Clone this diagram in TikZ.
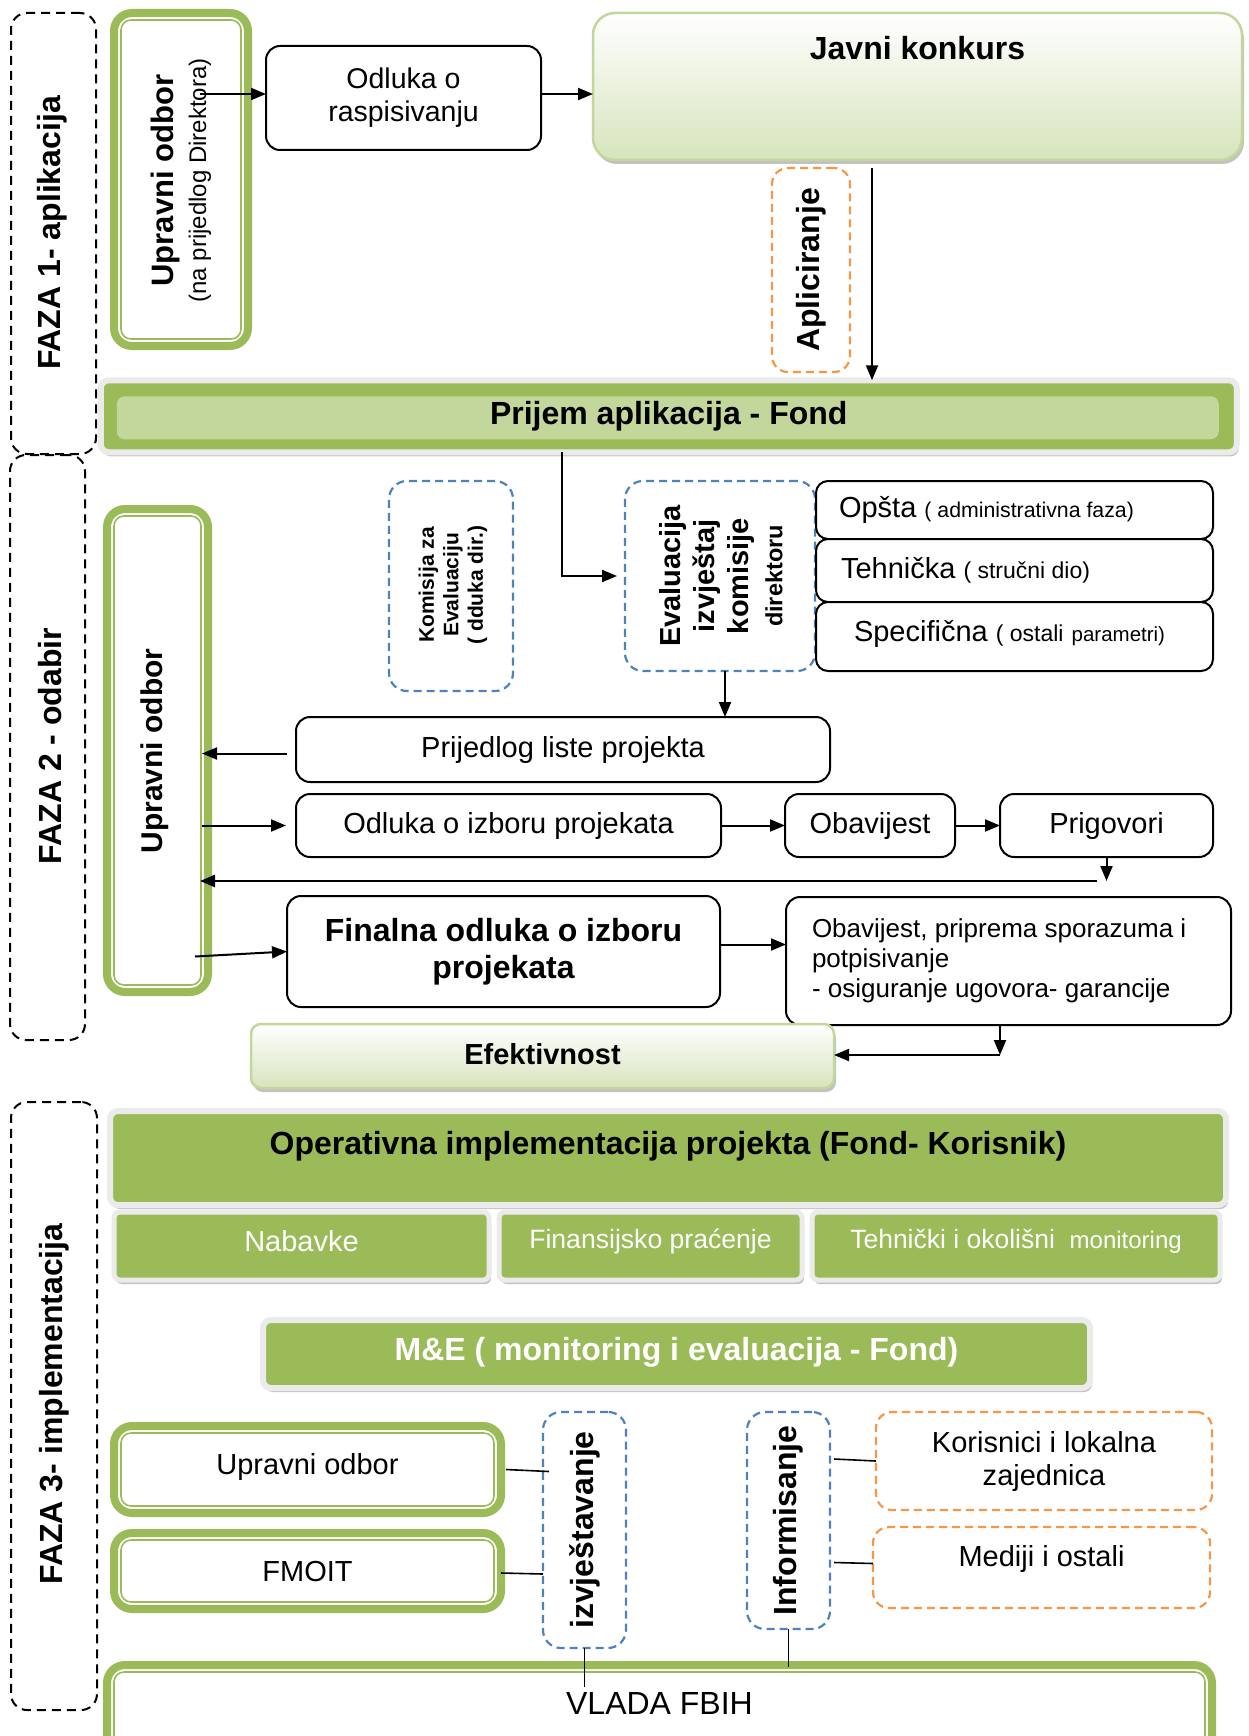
\documentclass[tikz,border=0pt]{standalone}
\usepackage{fontspec}
\setmainfont{Liberation Sans}
\usetikzlibrary{arrows.meta,shadows}
\definecolor{grn}{HTML}{9BBB59}
\definecolor{lgrn}{HTML}{C3D69B}
\definecolor{pgrn}{HTML}{D7E4BD}
\definecolor{bdash}{HTML}{4F81BD}
\definecolor{odash}{HTML}{F79646}
\definecolor{halo}{HTML}{EBEBEB}
\definecolor{shd}{HTML}{A8A8A8}
\newcommand{\fsz}[2]{\fontsize{#1}{#2}\selectfont}
\newcommand{\innerline}[1]{\draw[grn, line width=1.6pt, rounded corners=10pt] ([shift={(7pt,-7pt)}]#1.north west) rectangle ([shift={(-7pt,7pt)}]#1.south east);}
\begin{document}
\begin{tikzpicture}[x=1pt,y=-1pt,
  every node/.style={inner sep=0pt, outer sep=0pt, align=center},
  sz/.style 2 args={minimum width=#1pt, minimum height=#2pt},
  fN/.style={font=\fsz{29}{34}},
  fB/.style={font=\bfseries\fsz{32}{36}},
  faza/.style={draw=black, line width=2pt, dash pattern=on 9pt off 6pt, rounded corners=16pt},
  dbl/.style={draw=grn, line width=8pt, rounded corners=18pt, fill=white},
  wbox/.style={draw=black, line width=2pt, rounded corners=14pt, fill=white},
  bdbox/.style={draw=bdash, line width=2.2pt, dash pattern=on 8pt off 5pt, rounded corners=18pt},
  odbox/.style={draw=odash, line width=2.2pt, dash pattern=on 8pt off 5pt, rounded corners=16pt},
  shad/.style={drop shadow={shadow xshift=2pt, shadow yshift=-4pt, fill=shd, opacity=0.7}},
  gradbox/.style={draw=lgrn, line width=2.5pt, top color=white, bottom color=pgrn, rounded corners=22pt, shad},
  gbox/.style={draw=halo, line width=6pt, fill=grn, rounded corners=8pt, shad},
  arr/.style={line width=2pt, -{Triangle[length=15pt,width=12pt]}},
  ln/.style={line width=1.6pt},
]
\useasboundingbox (0,0) rectangle (1248,1736);
\clip (0,0) rectangle (1248,1736);

% ---------------- FAZA 1
\node[faza, sz={85}{441}] (faza1) at (53.5,233.5) {};
\node[fB, rotate=90] (faza1t) at (52,233) {FAZA 1- aplikacija};

\node[dbl, sz={134}{333}] (uo1) at (181,179.5) {};
\innerline{uo1}
\node[rotate=90, font=\bfseries\fsz{31}{33}] (uo1t) at (181,180.5) {Upravni odbor\\{\normalfont\fsz{24}{33}(na prijedlog Direktora)}};

\node[wbox, sz={275}{104}, font=\fsz{28.5}{33}] (odl) at (403.5,98) {Odluka o\\raspisivanju};

\node[gradbox, sz={649}{147}] (javni) at (917.5,86.5) {};
\node[fB] (javnit) at ([yshift=-35pt]javni.north) {Javni konkurs};

\node[odbox, sz={78}{204}] (apl) at (811,270) {};
\node[fB, rotate=90] (aplt) at (apl) {Apliciranje};

\node[gbox, sz={1136}{72},
  path picture={\fill[lgrn] ([shift={(16pt,-16pt)}]path picture bounding box.north west) rectangle ([shift={(-18pt,13pt)}]path picture bounding box.south east);}]
  (prijem) at (668.75,416.25) {};
\node[fB] (prijemt) at (prijem) {Prijem aplikacija - Fond};

\draw[arr] ([shift={(-48pt,4pt)}]uo1.east |- odl.west) -- ([yshift=4pt]odl.west);
\draw[arr] ([yshift=4pt]odl.east) -- ([yshift=4pt]odl.east -| javni.west);
\coordinate (ax) at (872,0);
\draw[arr] ([yshift=-8pt]javni.south -| ax) -- (prijem.north -| ax);

% ---------------- FAZA 2
\node[faza, sz={75}{585}] (faza2) at (47.5,747.5) {};
\node[fB, rotate=90] (faza2t) at (50,746) {FAZA 2 - odabir};

\node[dbl, sz={101}{483}] (uo2) at (157.5,750.5) {};
\innerline{uo2}
\node[rotate=90, font=\bfseries\fsz{30}{34}] (uo2t) at (155,751) {Upravni odbor};

\node[bdbox, sz={124}{210}] (kom) at (451,586) {};
\node[rotate=90, font=\bfseries\fsz{21}{24.5}] (komt) at (453,585) {Komisija za\\Evaluaciju\\( dduka dir.)};

\node[bdbox, sz={190}{190}] (eval) at (720,576) {};
\node[rotate=90, font=\bfseries\fsz{29}{34}] (evalt) at (721,576) {Evaluacija\\izvještaj\\komisije\\{\fsz{23.5}{34}direktoru}};

\node[wbox, rounded corners=12pt, sz={397}{58}] (opsta) at (1014.5,510) {};
\node[fN, anchor=west] (opstat) at ([xshift=23pt]opsta.west) {Opšta {\fsz{21.3}{25}( administrativna faza)}};
\node[wbox, rounded corners=12pt, sz={397}{63}] (tehn) at (1014.5,570.5) {};
\node[fN, anchor=west] (tehnt) at ([xshift=25pt]tehn.west) {Tehnička {\fsz{23}{25}( stručni dio)}};
\node[wbox, rounded corners=12pt, sz={397}{69}] (spec) at (1014.5,636.5) {};
\node[fN, anchor=west] (spect) at ([xshift=38pt,yshift=3pt]spec.west) {Specifična {\fsz{23}{25}( ostali} {\fsz{20.5}{25}parametri)}};

\coordinate (pa) at (562,0);
\draw[arr] (prijem.south -| pa) |- ([xshift=-8pt]eval.west);

\node[wbox, sz={534}{65}, fN] (prijedlog) at (563,749.5) {Prijedlog liste projekta};
\coordinate (ex) at (725,0);
\draw[arr] (eval.south -| ex) -- (prijedlog.north -| ex);

\node[wbox, sz={425}{63}, fN] (odluka2) at (508.5,825.5) {Odluka o izboru projekata};
\node[wbox, sz={170}{63}, fN] (obav) at (870,825.5) {Obavijest};
\node[wbox, sz={213}{63}, fN] (prig) at (1106.5,825.5) {Prigovori};

\draw[arr] ([shift={(-9pt,-4pt)}]prijedlog.west) -- ([shift={(-6pt,-4pt)}]prijedlog.west -| uo2.east);
\draw[arr] ([xshift=-6pt]uo2.east |- odluka2.west) -- ([xshift=-10pt]odluka2.west);
\draw[arr] (odluka2.east) -- (obav.west);
\draw[arr] (obav.east) -- (prig.west);

\coordinate (pc) at (1106,881);
\draw[arr] (prig.south) -- (prig.south |- pc);
\draw[arr, line width=2.6pt] ([xshift=-9pt]pc) -- ([xshift=-8pt]pc -| uo2.east);

\node[wbox, sz={433}{111}, font=\bfseries\fsz{32}{36.5}] (finalna) at (503.5,951.5) {Finalna odluka o izboru\\projekata};
\draw[arr] ([shift={(-13pt,-5pt)}]uo2.east |- finalna.west) -- (finalna.west);

\node[wbox, sz={445}{128}] (obav2) at (1008.5,961) {};
\node[anchor=west, align=left, font=\fsz{26}{30}] (obav2t) at ([xshift=26pt]obav2.west) {Obavijest, priprema sporazuma i\\potpisivanje\\- osiguranje ugovora- garancije};
\draw[arr] ([yshift=7pt]finalna.east) -- ([yshift=7pt]finalna.east -| obav2.west);

\node[gradbox, rounded corners=10pt, sz={583}{64}] (efekt) at (542.5,1056) {};
\node[font=\bfseries\fsz{29}{34}] (efektt) at ([yshift=2pt]efekt.center) {Efektivnost};
\coordinate (pe) at (1000,1055);
\draw[arr] (obav2.south -| pe) -- (pe);
\draw[arr] (pe) -- (pe -| efekt.east);

% ---------------- FAZA 3
\node[faza, sz={86}{608}] (faza3) at (54,1406) {};
\node[fB, rotate=90] (faza3t) at (54,1404) {FAZA 3- implementacija};

\node[gbox, sz={1116}{94}] (oper) at (668,1158) {};
\node[fB] (opert) at ([yshift=-35pt]oper.north) {Operativna implementacija projekta (Fond- Korisnik)};

\node[gbox, line width=5pt, rounded corners=6pt, sz={375}{68}] (nab) at (301.5,1246) {};
\node[text=white, font=\fsz{29}{34}] (nabt) at ([yshift=5pt]nab.center) {Nabavke};
\node[gbox, line width=5pt, rounded corners=6pt, sz={303}{68}] (fin) at (650.5,1246) {};
\node[text=white, font=\fsz{26.6}{30}] (fint) at ([yshift=5pt]fin.center) {Finansijsko praćenje};
\node[gbox, line width=5pt, rounded corners=6pt, sz={408}{68}] (teh) at (1016,1246) {};
\node[text=white, font=\fsz{26.5}{30}] (teht) at ([yshift=5pt]teh.center) {Tehnički i okolišni\ \ {\fsz{24}{30}monitoring}};

\node[gbox, sz={827}{68}] (me) at (676.5,1354) {};
\node[text=white, font=\bfseries\fsz{32}{36}] (met) at ([yshift=2pt]me.center) {M\&E ( monitoring i evaluacija - Fond)};

\node[dbl, sz={387}{87}] (uo3) at (307.5,1469.5) {};
\innerline{uo3}
\node[fN] (uo3t) at ([yshift=3pt]uo3.center) {Upravni odbor};
\node[dbl, sz={387}{76}, fN] (fmoit) at (307.5,1571) {FMOIT};
\innerline{fmoit}

\node[bdbox, sz={83}{236}] (izv) at (584.5,1530) {};
\node[fB, rotate=90] (izvt) at (izv) {izvještavanje};
\node[bdbox, sz={83}{217}] (inf) at (788.5,1520.5) {};
\node[fB, rotate=90] (inft) at (inf) {Informisanje};

\node[odbox, sz={336}{98}, font=\fsz{29}{33}] (kor) at (1044,1461) {Korisnici i lokalna\\zajednica};
\node[odbox, sz={337}{81}] (med) at (1041.5,1567.5) {};
\node[font=\fsz{29}{33}] (medt) at ([yshift=9pt]med.center) {Mediji i ostali};

\node[dbl, sz={1105}{95}] (vlada) at (659.5,1712.5) {};
\innerline{vlada}
\node[font=\fsz{32}{36}] (vladat) at ([yshift=-38pt]vlada.north) {VLADA FBIH};

\draw[ln] ([xshift=5pt]uo3.east) -- ([shift={(6pt,-2pt)}]uo3.east -| izv.west);
\draw[ln] ([yshift=-2pt]fmoit.east) -- ([yshift=-3pt]fmoit.east -| izv.west);
\draw[ln] ([shift={(4pt,2pt)}]inf.east |- kor.west) -- (kor.west);
\draw[ln] ([shift={(4pt,5pt)}]inf.east |- med.west) -- ([yshift=4pt]med.west);
\draw[ln] (izv.south) -- ([yshift=-22pt]izv.south |- vlada.north);
\draw[ln] (inf.south) -- ([yshift=-2pt]inf.south |- vlada.north);
\end{tikzpicture}
\end{document}
